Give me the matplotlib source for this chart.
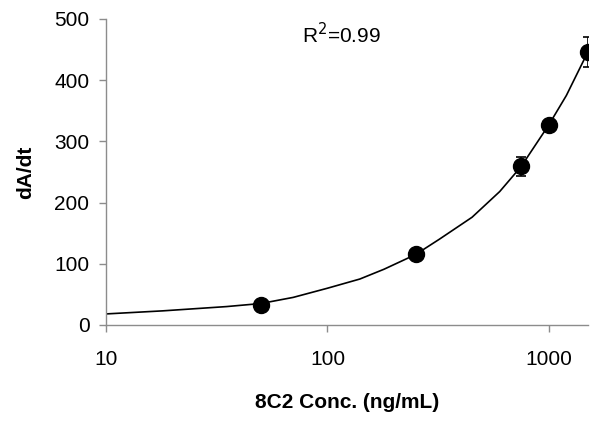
import matplotlib
matplotlib.use("Agg")
import matplotlib.pyplot as plt

plt.rcParams["font.family"] = ["Liberation Sans", "DejaVu Sans"]

# measured points (mean +/- error)
conc = [50, 250, 750, 1000, 1500]
rate = [33, 116, 259, 327, 446]
rate_err = [2, 3, 16, 5, 25]

# fitted curve
fit_conc = [10, 18, 35, 50, 70, 100, 140, 180, 250, 320, 450, 600, 750, 1000, 1200, 1500]
fit_rate = [18, 23, 30, 35, 45, 60, 75, 91, 115, 140, 176, 218, 259, 327, 375, 446]

y_ticks = [0, 100, 200, 300, 400, 500]
x_ticks = [10, 100, 1000]
x_tick_labels = ["10", "100", "1000"]

fig = plt.figure(figsize=(6.06, 4.22), dpi=100)
ax = fig.add_axes([0.175, 0.230, 0.795, 0.725])

ax.plot(fit_conc, fit_rate, color="black", linewidth=1.2, zorder=2)
ax.errorbar(conc, rate, yerr=rate_err, fmt="o", color="black", markersize=11.5,
            ecolor="black", elinewidth=1.2, capsize=3.3, capthick=1.2, zorder=3)

ax.set_xscale("log")
ax.set_xlim(10, 1500)
ax.set_ylim(0, 500)
ax.set_xticks(x_ticks)
ax.set_xticklabels(x_tick_labels)
ax.xaxis.set_minor_locator(matplotlib.ticker.NullLocator())
ax.set_yticks(y_ticks)

for s in ["top", "right"]:
    ax.spines[s].set_visible(False)
for s in ["left", "bottom"]:
    ax.spines[s].set_color("#8c8c8c")
    ax.spines[s].set_linewidth(1.0)

ax.tick_params(axis="both", colors="#8c8c8c", length=5, width=1.0,
               labelcolor="black", labelsize=15)
ax.tick_params(axis="x", pad=13)
ax.tick_params(axis="y", pad=7)

ax.set_xlabel("8C2 Conc. (ng/mL)", fontsize=15, fontweight="bold", labelpad=17)
ax.set_ylabel("dA/dt", fontsize=15, fontweight="bold", labelpad=14)

ax.text(0.488, 0.948, "R$^2$=0.99", transform=ax.transAxes, fontsize=15,
        ha="center", va="center")

fig.savefig("out.png", dpi=100)
